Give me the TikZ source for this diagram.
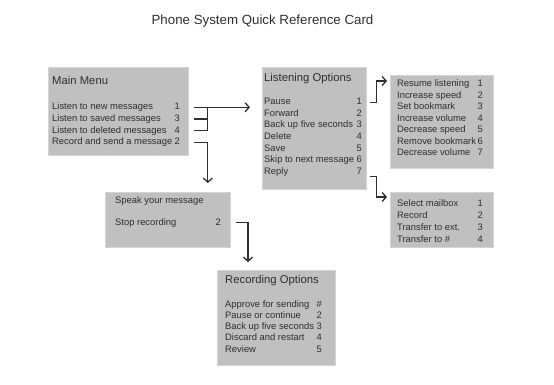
\documentclass[tikz,border=0pt]{standalone}
\usepackage{fontspec}
\setmainfont{Liberation Sans}
\usetikzlibrary{positioning,arrows.meta}
\definecolor{cardgray}{HTML}{C0C0C0}
\definecolor{cardedge}{HTML}{D4D4D4}
\definecolor{ink}{HTML}{2E2E2E}

\begin{document}
\begin{tikzpicture}[x=1pt, y=-1pt,
    card/.style={anchor=north west, fill=cardgray, draw=cardedge, line width=0.8pt, inner sep=0pt},
    cardhead/.style={anchor=base west, inner sep=0pt, font=\fontsize{11.3}{13}\selectfont, text=ink},
    carditem/.style={anchor=base west, inner sep=0pt, font=\fontsize{9.4}{11}\selectfont, text=ink},
    cardnum/.style={carditem, anchor=base east},
    wire/.style={line width=1.3pt, ink},
    link/.style={wire, -{Straight Barb[length=4pt,width=9pt]}}
]
  \useasboundingbox (0,0) rectangle (554,385);

  \node[font=\fontsize{13.3}{15}\selectfont, text=ink, anchor=base] (title) at (262.5,25) {Phone System Quick Reference Card};

  % the cards
  \node[card, minimum width=140pt, minimum height=88pt] (mainbox) at (48,67) {};
  \node[card, minimum width=104pt, minimum height=122pt] (listen) at (262,67) {};
  \node[card, minimum width=103pt, minimum height=93pt] (resume) at (390,75) {};
  \node[card, minimum width=103pt, minimum height=55pt] (select) at (390,192) {};
  \node[card, minimum width=125pt, minimum height=55pt] (speak) at (105,192) {};
  \node[card, minimum width=118pt, minimum height=95pt] (recbox) at (217,270) {};

  % main menu
  \node[cardhead] (mmhead) at (52,85) {Main Menu};
  \foreach \txt/\num [count=\i] in {Listen to new messages/1, Listen to saved messages/3,
      Listen to deleted messages/4, Record and send a message/2} {
    \node[carditem] (mm\i) at (52,{98.3+11.67*\i}) {\txt};
    \node[cardnum] (mmn\i) at (180,{98.3+11.67*\i}) {\num};
  }

  % listening options
  \node[cardhead] (lohead) at (264,81.5) {Listening Options};
  \foreach \txt/\num [count=\i] in {Pause/1, Forward/2, Back up five seconds/3, Delete/4,
      Save/5, Skip to next message/6, Reply/7} {
    \node[carditem] (lo\i) at (264,{93.5+11.5*\i}) {\txt};
    \node[cardnum] (lon\i) at (362,{93.5+11.5*\i}) {\num};
  }

  % pause menu
  \foreach \txt/\num [count=\i] in {Resume listening/1, Increase speed/2, Set bookmark/3,
      Increase volume/4, Decrease speed/5, Remove bookmark/6, Decrease volume/7} {
    \node[carditem] (rs\i) at (397,{75.5+11.5*\i}) {\txt};
    \node[cardnum] (rsn\i) at (483,{75.5+11.5*\i}) {\num};
  }

  % reply menu
  \foreach \txt/\num [count=\i] in {Select mailbox/1, Record/2, Transfer to ext./3, Transfer to \#/4} {
    \node[carditem] (sl\i) at (397,{194.9+11.8*\i}) {\txt};
    \node[cardnum] (sln\i) at (483,{194.9+11.8*\i}) {\num};
  }

  % record a message
  \node[carditem] (sp1) at (115,203) {Speak your message};
  \node[carditem] (sp2) at (115,225) {Stop recording};
  \node[cardnum] (spn2) at (221,225) {2};

  % recording options
  \node[cardhead] (rohead) at (225,283) {Recording Options};
  \foreach \txt/\num [count=\i] in {Approve for sending/\#, Pause or continue/2,
      Back up five seconds/3, Discard and restart/4, Review/5} {
    \node[carditem] (ro\i) at (225,{295.7+11.3*\i}) {\txt};
    \node[cardnum] (ron\i) at (322,{295.7+11.3*\i}) {\num};
  }

  % connectors
  \coordinate (jn) at ([xshift=19pt]mainbox.east |- mm1.mid);
  \draw[link] ([xshift=5pt]mainbox.east |- mm1.mid) -- ([xshift=-12pt]listen.west |- mm1.mid);
  \draw[wire] ([xshift=5pt]mainbox.east |- mm2.mid) -| (jn);
  \draw[wire] ([xshift=5pt]mainbox.east |- mm3.mid) -| (jn);
  \draw[link, shorten >=9pt] ([xshift=5pt]mainbox.east |- mm4.mid) -| (jn |- speak.north);
  \draw[link, shorten >=8pt] ([xshift=5pt]speak.east |- sp2.mid) -| ([xshift=31pt]recbox.north west);
  \draw[link, shorten >=3pt] ([xshift=3pt]listen.east |- lo1.mid) -- ++(7,0) |- ([yshift=-6pt]resume.north west);
  \draw[link, shorten >=3pt] ([xshift=3pt,yshift=-5pt]listen.east |- lo7.mid) -- ++(7,0) |- ([yshift=-5pt]select.north west);
\end{tikzpicture}
\end{document}
